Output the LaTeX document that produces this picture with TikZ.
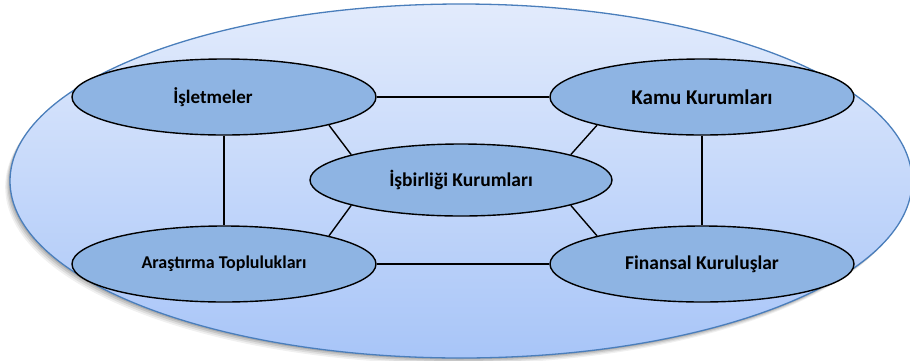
\documentclass[tikz,border=0pt]{standalone}
\usepackage{fontspec}
\setmainfont{Carlito}
\usetikzlibrary{shapes.geometric}
\definecolor{bigtop}{HTML}{E2EBFC}
\definecolor{bigbot}{HTML}{A8C5F8}
\definecolor{bigedge}{HTML}{4A7EBB}
\definecolor{smallfill}{HTML}{8EB4E3}
\tikzset{
  unit/.style={ellipse, draw=black, line width=1.4pt, fill=smallfill,
    minimum width=304pt, minimum height=76pt, inner sep=0pt, font=\bfseries},
  link/.style={draw=black, line width=1.4pt}
}
\begin{document}
\begin{tikzpicture}[x=1pt,y=-1pt]
\useasboundingbox (0,0) rectangle (910,360);
% shadow of big ellipse
\foreach \o/\op in {6/0.06,4.5/0.08,3/0.1,1.5/0.12}{
  \fill[black,opacity=\op] (461-\o*0.8,181+\o) ellipse [x radius=451pt, y radius=177pt];
}
\shade[top color=bigtop, bottom color=bigbot] (461,181) ellipse [x radius=451pt, y radius=177pt];
\draw[bigedge, line width=1.3pt] (461,181) ellipse [x radius=451pt, y radius=177pt];

\node[unit] (isl) at (224,97) {\fontsize{19}{22}\selectfont\hspace*{-22pt}İşletmeler};
\node[unit] (kamu) at (702,97) {\fontsize{21}{24}\selectfont Kamu Kurumları};
\node[unit, minimum width=302pt, minimum height=72pt] (isb) at (461,180) {\fontsize{19.5}{23}\selectfont İşbirliği Kurumları};
\node[unit] (ara) at (224,264) {\fontsize{18}{21}\selectfont Araştırma Toplulukları};
\node[unit] (fin) at (702,264) {\fontsize{19.5}{23}\selectfont Finansal Kuruluşlar};

\draw[link] (isl.east) -- (kamu.west);
\draw[link] (ara.east) -- (fin.west);
\draw[link] (isl.south) -- (ara.north);
\draw[link] (kamu.south) -- (fin.north);
\draw[link] (isl.-15) -- (isb.167);
\draw[link] (kamu.195) -- (isb.13);
\draw[link] (isb.193) -- (ara.15);
\draw[link] (isb.-13) -- (fin.165);
\end{tikzpicture}
\end{document}
